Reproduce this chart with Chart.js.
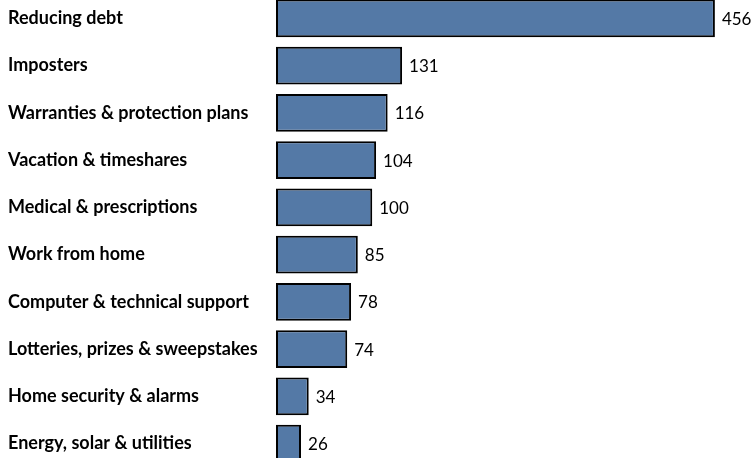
<!DOCTYPE html>
<html>
<head>
<meta charset="utf-8">
<script src="https://cdn.jsdelivr.net/npm/chart.js@4"></script>
<style>
  html, body { margin: 0; padding: 0; background: #fff; overflow: hidden; }
  #wrap { position: relative; width: 753px; height: 494px; margin-top: -16px; }
</style>
</head>
<body>
<div id="wrap"><canvas id="chart"></canvas></div>
<script>
// scam categories and counts
const categories = [
  "Reducing debt",
  "Imposters",
  "Warranties & protection plans",
  "Vacation & timeshares",
  "Medical & prescriptions",
  "Work from home",
  "Computer & technical support",
  "Lotteries, prizes & sweepstakes",
  "Home security & alarms",
  "Energy, solar & utilities"
];
const counts = [456, 131, 116, 104, 100, 85, 78, 74, 34, 26];

const FONT = "Lato, 'Open Sans', sans-serif";

// write the value just right of each bar
const valueLabels = {
  id: "valueLabels",
  afterDatasetsDraw(chart) {
    const ctx = chart.ctx;
    const meta = chart.getDatasetMeta(0);
    ctx.save();
    ctx.font = "17px " + FONT;
    ctx.fillStyle = "#000";
    ctx.textBaseline = "middle";
    ctx.textAlign = "left";
    meta.data.forEach(function (bar, i) {
      ctx.fillText(String(counts[i]), bar.x + 7, bar.y + 1);
    });
    ctx.restore();
  }
};

new Chart(document.getElementById("chart"), {
  type: "bar",
  data: {
    labels: categories,
    datasets: [{
      data: counts,
      backgroundColor: "#5479a6",
      borderColor: "#000",
      borderWidth: 2,
      borderSkipped: false,
      categoryPercentage: 1,
      barPercentage: 0.8
    }]
  },
  options: {
    indexAxis: "y",
    responsive: true,
    maintainAspectRatio: false,
    animation: false,
    layout: { padding: { left: 8, right: 15, top: 0, bottom: 0 } },
    plugins: { legend: { display: false }, tooltip: { enabled: false } },
    scales: {
      x: { display: false, min: 0, max: 480 },
      y: {
        grid: { display: false },
        border: { display: false },
        afterFit(scale) { scale.width = 268; },
        ticks: {
          crossAlign: "far",
          color: "#000",
          padding: 0,
          font: { family: FONT, size: 18, weight: "bold" }
        }
      }
    }
  },
  plugins: [valueLabels]
});
</script>
</body>
</html>
